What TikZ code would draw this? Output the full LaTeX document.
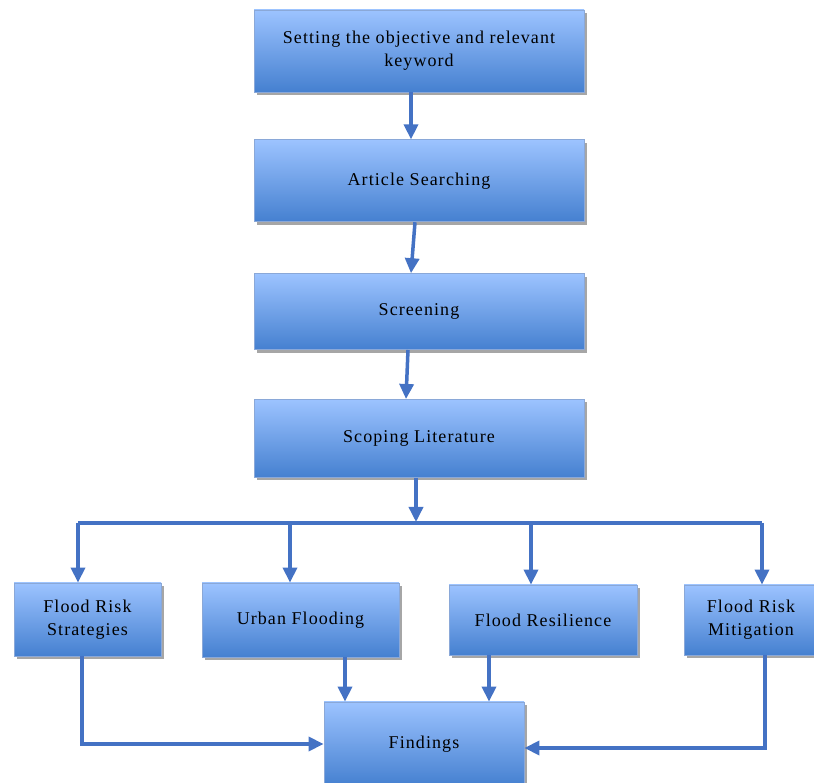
\documentclass[tikz,border=0pt]{standalone}
\usepackage{fontspec}
\setmainfont{Liberation Serif}
\usetikzlibrary{positioning, arrows.meta, shadows}
\definecolor{linkblue}{HTML}{4472C4}
\definecolor{boxtop}{HTML}{9CC3FF}
\definecolor{boxbottom}{HTML}{4580D0}
\definecolor{boxedge}{HTML}{8AA8D8}

\begin{document}
\begin{tikzpicture}[x=1pt, y=1pt,
    stagebox/.style={draw=boxedge, line width=0.8pt, top color=boxtop, bottom color=boxbottom,
        drop shadow={shadow xshift=2.5pt, shadow yshift=-3pt, fill=black, opacity=0.35},
        align=center, inner sep=0pt,
        font=\fontsize{18}{23}\selectfont\addfontfeature{LetterSpace=6}},
    link/.style={draw=linkblue, line width=3.5pt},
    arr/.style={link, -{Triangle[width=14pt, length=15pt]}}]
    \useasboundingbox (0,0) rectangle (814,782);

    % Main chain
    \node[stagebox, minimum width=330pt, minimum height=82pt] (objective) at (419,731) {Setting the objective and relevant\\keyword};
    \node[stagebox, minimum width=330pt, minimum height=82pt, below=47pt of objective] (search) {Article Searching};
    \node[stagebox, minimum width=330pt, minimum height=76pt, below=51pt of search] (screen) {Screening};
    \node[stagebox, minimum width=330pt, minimum height=78pt, below=49pt of screen] (scope) {Scoping Literature};

    % Themes
    \node[stagebox, minimum width=147pt, minimum height=73pt] (strategies) at (87.5,162.5) {Flood Risk\\Strategies};
    \node[stagebox, minimum width=197pt, minimum height=74pt] (urban) at (300.5,162) {Urban Flooding};
    \node[stagebox, minimum width=188pt, minimum height=70pt] (resilience) at (543,162) {Flood Resilience};
    \node[stagebox, minimum width=134pt, minimum height=70pt] (mitigation) at (751,162) {Flood Risk\\Mitigation};

    % Result
    \node[stagebox, minimum width=200pt, minimum height=84pt] (findings) at (424,38) {Findings};

    % Chain arrows
    \draw[arr] ([xshift=-8pt]objective.south) -- ([xshift=-8pt]search.north);
    \draw[arr] ([xshift=-4pt]search.south) -- ([xshift=-8pt]screen.north);
    \draw[arr] ([xshift=-11pt]screen.south) -- ([xshift=-13pt]scope.north);

    % Branching bus
    \coordinate (bus) at (416,260);
    \coordinate (busL) at (78,259);
    \coordinate (tapU) at (290,259);
    \coordinate (tapR) at (531,259);
    \coordinate (busR) at (762,259);
    \draw[arr] ([xshift=-3pt]scope.south) -- (bus);
    \draw[link] (busL) -- (busR);
    \draw[arr] (busL) -- (busL |- strategies.north);
    \draw[arr] (tapU) -- (tapU |- urban.north);
    \draw[arr] (tapR) -- (tapR |- resilience.north);
    \draw[arr] (busR) -- (busR |- mitigation.north);

    % Into findings
    \coordinate (fromU) at ([xshift=44.5pt]urban.south);
    \coordinate (fromR) at ([xshift=-54pt]resilience.south);
    \draw[arr] ([xshift=-5.5pt]strategies.south) |- (findings.west);
    \draw[arr] (fromU) -- (fromU |- findings.north);
    \draw[arr] (fromR) -- (fromR |- findings.north);
    \draw[arr] ([xshift=14pt]mitigation.south) |- ([yshift=-4pt]findings.east);
\end{tikzpicture}
\end{document}
